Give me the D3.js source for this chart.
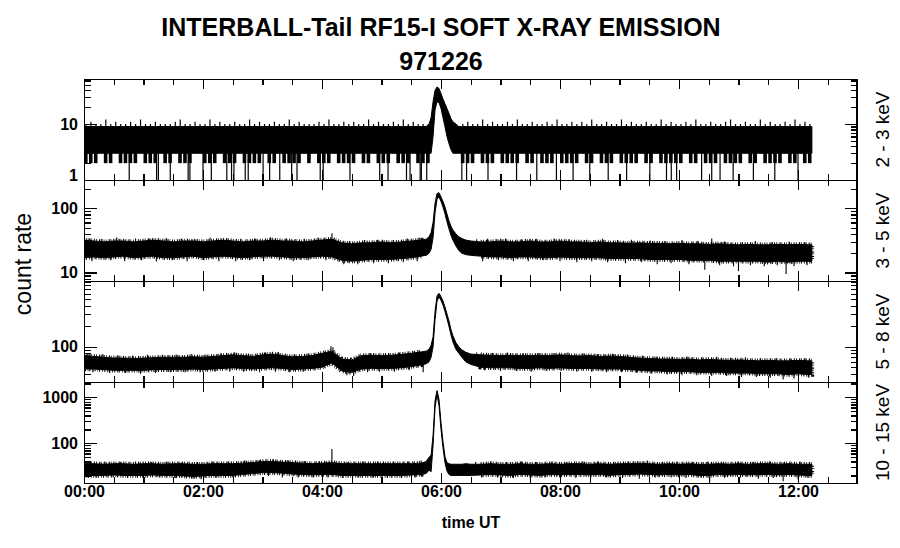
<!DOCTYPE html>
<html><head><meta charset="utf-8">
<script src="https://cdn.jsdelivr.net/npm/d3@7/dist/d3.min.js"></script>
<style>body{margin:0;background:#fff}svg{display:block}</style>
</head><body><svg id="c" width="900" height="548"></svg>
<script>
// ---------------- DATA ----------------
const titleLines = ["INTERBALL-Tail RF15-I SOFT X-RAY EMISSION", "971226"];
const yTitle = "count rate";
const xTitle = "time UT";
const energyLabels = ["2 - 3 keV", "3 - 5 keV", "5 - 8 keV", "10 - 15 keV"];
const xMajorHours = [0, 2, 4, 6, 8, 10, 12];
const xTickLabels = ["00:00", "02:00", "04:00", "06:00", "08:00", "10:00", "12:00"];
const xMinorHours = [0.5,1,1.5,2.5,3,3.5,4.5,5,5.5,6.5,7,7.5,8.5,9,9.5,10.5,11,11.5,12.5];

// sample times (minutes UT)
const timeMin = [0,10,20,30,40,50,60,70,80,90,100,110,120,130,140,150,160,170,180,190,200,210,220,230,240,250,260,270,280,290,300,310,320,330,340,
 345,348,350,352,354,356,358,360,362,364,366,368,370,372,375,378,381,385,390,
 400,410,420,430,440,450,460,470,480,490,500,510,520,530,540,550,560,570,580,590,600,610,620,630,640,650,660,670,680,690,700,710,720,730,734];
// flare interval (minutes) – edges there are smooth, not noisy
const flareStartMin = 343, flareEndMin = 392;

// 2-3 keV envelope
const p1Lo = [3,3,3,3,3,3,3,3,3,3,3,3,3,3,3,3,3,3,3,3,3,3,3,3,3,3,3,3,3,3,3,3,3,3,3,
 3,3,3,6,18,25,24,19,13,9,6,4.5,3.5,3,3,3,3,3,3,
 3,3,3,3,3,3,3,3,3,3,3,3,3,3,3,3,3,3,3,3,3,3,3,3,3,3,3,3,3,3,3,3,3,3,3];
const p1Hi = [9,9,9,9,9,9,9,9,9,9,9,9,9,9,9,9,9,9,9,9,9,9,9,9,9,9,9,9,9,9,9,9,9,9,9,
 9,10,13,25,40,46,43,35,28,23,19,15.5,12.5,11,10,9,9,9,9,
 9,9,9,9,9,9,9,9,9,9,9,9,9,9,9,9,9,9,9,9,9,9,9,9,9,9,9,9,9,9,9,9,9,9,9];
// 2-3 keV: lowest count in each 5-minute slot (2 or 3) and highest count in each slot
const p1SlotMin = 5;
const p1SlotLow = [2,2,2,3,2,2,3,2,2,2,2,3,2,2,2,3,2,2,3,2,2,2,3,3,2,2,2,3,2,2,
 2,3,2,2,2,2,3,2,2,3,2,2,2,2,3,2,3,2,2,2,3,2,2,2,2,3,2,2,3,2,
 2,2,3,2,2,2,3,2,2,2,3,3,3,3,3,3,2,2,2,3,2,2,2,3,2,2,2,2,3,2,
 2,3,2,2,2,3,2,2,2,2,3,2,2,3,2,2,2,3,2,2,2,2,3,2,2,3,2,2,2,2,
 2,3,2,2,3,2,2,2,3,2,2,2,2,3,2,2,3,2,2,2,2,3,2,2,3,2,2];
const p1SlotHigh = [10,11,10,10,12,10,11,10,10,11,10,12,10,10,11,10,10,10,11,12,10,10,11,10,10,12,10,11,10,10,
 11,10,10,12,10,11,10,10,11,10,10,12,10,11,10,10,10,11,10,12,10,10,11,10,11,10,10,12,10,11,
 10,10,11,10,12,10,11,10,10,9,9,9,9,9,9,9,10,11,10,10,12,10,11,10,10,11,10,12,10,10,
 11,10,10,11,10,12,10,10,11,10,11,10,12,10,10,11,10,10,12,10,11,10,10,11,10,10,12,10,11,10,
 10,11,10,12,10,10,11,10,10,11,12,10,10,11,10,10,12,10,11,10,10,11,10,12,10,11,10];
// 2-3 keV: times (hours) where the count drops to 1
const p1DipHours = [0.76,1.22,1.25,1.45,1.75,1.78,2.0,2.14,2.4,2.48,2.52,2.71,2.76,3.01,3.12,3.29,3.49,3.58,3.97,4.02,4.47,4.97,5.11,5.42,5.48,5.65,5.67,5.76,
 6.35,6.43,6.79,7.27,7.61,7.94,8.22,8.5,8.81,9.12,9.51,9.79,9.87,9.96,10.38,10.55,10.69,10.91,11.25,11.61,12.0];

// 3-5 keV envelope
const p2Lo = [17,17.5,17,17.5,18,17,17.5,18,17,17,17.5,18,17,17.5,18,17.5,17,17.5,18,18,17.5,17,17,17.5,18,17.5,15.5,15,15.5,16,16,16,16.5,17,18,
 18.5,20,23,35,85,140,150,128,105,82,62,48,38,32,26,22,20,19,18.5,
 18,17.5,17.5,17,17.5,17.5,17,17,17.5,17,17,17,17,16.5,16.5,16.5,16.5,16,16,16,16,15.5,15.5,15.5,15,15,15,15,15,14.5,15,14.5,15,15,15];
const p2Hi = [32,31,30,31,31,30,31,32,31,30,31,31,30,31,32,31,30,31,31,32,31,31,30,31,32,33,29,28,29,29,30,29,30,31,32,
 33,36,42,60,120,170,175,150,128,105,82,64,53,46,40,36,34,32,31,
 30,30,31,30,30,31,30,30,31,30,30,29,30,29,29,28.5,29,28.5,28.5,28,28.5,28,28,27.5,28,27.5,27,27.5,27,27,27.5,27,27.5,27,27];
const p2Spikes = [[5,34],[18,33.5],[33,35],[52,34],[66,33],[83,34.5],[98,34],[112,33],[127,35],[144,34],[158,33.5],[172,34],[188,35.5],[204,34],[222,33.5],[236,35],[250,41],[268,31],[283,32],[296,32.5],[312,32],[326,34],[338,35],
 [396,33],[407,33.5],[425,34],[441,33],[456,33.5],[474,34],[489,33],[507,32.5],[523,33.5],[538,32],[552,32.5],[571,31.5],[586,31],[603,32],[619,31],[633,34],[646,30.5],[664,30],[677,31],[694,30],[711,30.5],[727,30],
 [8,15],[27,15.5],[41,15],[58,15.5],[73,14.8],[89,15.5],[104,15],[121,15.5],[136,15],[153,15],[167,15.5],[181,15],[197,15.5],[211,15],[226,15.5],[244,15.5],[262,13.5],[276,13.5],[292,14],[307,14],[322,14.5],[336,15],
 [402,15],[418,15.5],[433,15],[448,15],[463,15.5],[480,15],[497,14.5],[512,15],[528,14.5],[546,14],[562,14.5],[578,13.5],[592,14],[610,13.5],[626,11],[641,13],[655,12.5],[660,10.5],[672,13],[686,12.5],[699,13],[708,9.5],[716,12.5],[729,13]];

// 5-8 keV envelope
const p3Lo = [47,47,46,45,45,45,45,46,46,46,46,47,46,47,48,49,48,47,48,49,48,46,47,48,50,58,44,42,47,48,48,48,49,51,54,
 56,60,70,100,250,470,540,480,410,330,260,200,150,118,92,80,70,60,55,
 50,49,49,49,48,48,49,48,49,48,48,48,47,47,47,46,45,44,44,43,43,43,42,42,42,41,41,41,40,40,40,39,40,39,39];
const p3Hi = [74,72,70,68,68,67,68,69,70,70,70,71,70,72,74,76,74,72,76,78,74,71,72,74,80,86,66,64,74,75,74,75,77,80,84,
 86,92,105,140,330,560,610,545,470,385,305,240,180,145,115,100,90,83,78,
 76,75,74,75,74,74,75,74,76,74,73,74,72,73,72,70,68,67,66,66,65,66,64,65,64,63,64,63,62,63,62,62,63,62,62];
const p3Spikes = [[4,80],[19,78],[34,75],[49,74],[64,76],[79,76],[93,77],[108,78],[122,77],[138,80],[152,83],[166,79],[182,82],[196,84],[212,78],[226,80],[249,102],[251,98],[258,70],[276,72],[289,80],[304,80],[318,82],[333,86],
 [396,82],[412,81],[427,82],[443,80],[458,81],[473,80],[488,82],[503,80],[518,78],[533,79],[548,77],[563,74],[577,72],[593,72],[608,72],[623,70],[638,71],[652,69],[667,70],[682,68],[698,68],[712,67],[727,68],
 [9,42],[26,41],[42,41],[57,40],[72,41],[87,42],[102,42],[117,42],[132,43],[147,43],[161,43],[177,42],[193,43],[207,42],[221,43],[265,38],[272,37],[286,42],[298,43],[313,43],[328,45],[342,42],
 [404,45],[420,44],[436,44],[451,43],[466,44],[481,44],[497,43],[512,43],[527,42],[542,42],[557,41],[572,40],[588,39],[603,38],[618,38],[633,37],[648,37],[663,36],[678,36],[692,35],[705,33],[716,34],[731,35]];

// 10-15 keV envelope
const p4Lo = [20,20,20,20.5,20,20,20,20.5,20,20,19.5,19,19.5,20,20,20,21,22,23,23,22.5,21.5,21,20.5,21,21,20,20,20,20,20,20,20,20.5,21,
 22,26,24,90,600,1150,650,200,80,38,25,21,20,20,20,20,20,20,20,
 20.5,21,20.5,20,21,20.5,20,21,20.5,21,21,20.5,21,20,21,21,21.5,21,20.5,21,20.5,21,20,20,21,20.5,21,20.5,21,21,20.5,21,20.5,20,20];
const p4Hi = [36,36,35,36,36,35,36,36,35,36,36,35,35,36,36,36,37,38,40,40,39,38,37,36,37,38,36,36,36,36,36,36,36,36,37,
 40,50,55,150,850,1400,900,280,110,52,38,36,35,35,35,35,35,36,35,
 35,36,35,35,36,35,35,36,35,36,36,35,36,35,36,36,37,36,35,36,35,36,35,35,36,35,36,35,36,36,35,36,35,35,35];
const p4Spikes = [[6,39],[21,40],[37,39],[52,40],[68,39],[83,40],[99,39],[114,39],[130,40],[146,40],[162,42],[177,43],[191,45],[206,43],[222,41],[237,40],[250,75],[266,39],[281,40],[296,40],[312,39],[327,40],[340,42],
 [395,39],[410,40],[426,39],[441,40],[456,39],[472,40],[487,39],[503,40],[518,40],[534,39],[549,40],[568,42],[583,39],[598,40],[614,39],[629,40],[645,39],[660,40],[675,39],[691,40],[706,39],[722,40],
 [12,18],[28,18],[44,17.5],[60,18],[76,18],[92,17.5],[110,17],[118,16.5],[134,18],[150,18],[186,19.5],[200,18],[216,18],[231,18],[246,18],[261,17.5],[277,18],[292,18],[306,17.5],[320,17.5],[334,18],
 [401,18],[417,18],[433,17.5],[450,17.5],[465,18],[480,18],[496,17.5],[511,18],[527,18],[543,17.5],[560,17],[576,18],[592,18],[607,17.5],[622,18],[631,14.8],[646,17.5],[662,18],[680,17],[695,17.5],[705,15],[720,16.5],[730,17.5]];

// y axis ticks
const p1Major = [1, 10], p1MajorLabels = ["1", "10"];
const p1Minor = [2,3,4,5,6,7,8,9,20,30,40,50,60];
const p2Major = [10, 100], p2MajorLabels = ["10", "100"];
const p2Minor = [8,9,20,30,40,50,60,70,80,90,200];
const p3Major = [100], p3MajorLabels = ["100"];
const p3Minor = [40,50,60,70,80,90,200,300,400,500,600,700,800,900];
const p4Major = [100, 1000], p4MajorLabels = ["100", "1000"];
const p4Minor = [20,30,40,50,60,70,80,90,200,300,400,500,600,700,800,900,2000];

// ---------------- DRAW ----------------
const FONT = "'Liberation Sans', Arial, Helvetica, sans-serif";
const svg = d3.select("#c");
const xL = 84, xR = 857.5;
const x = d3.scaleLinear().domain([0, 13]).range([xL, xR]);

const panels = [
  {top: 79,  bot: 180, dom: [1, 63.6],     lo: p1Lo, hi: p1Hi, spikes: [],       major: p1Major, majorLab: p1MajorLabels, minor: p1Minor},
  {top: 180, bot: 281, dom: [7.38, 276],   lo: p2Lo, hi: p2Hi, spikes: p2Spikes, major: p2Major, majorLab: p2MajorLabels, minor: p2Minor},
  {top: 281, bot: 382, dom: [30.3, 925],   lo: p3Lo, hi: p3Hi, spikes: p3Spikes, major: p3Major, majorLab: p3MajorLabels, minor: p3Minor},
  {top: 382, bot: 483, dom: [13.7, 2150],  lo: p4Lo, hi: p4Hi, spikes: p4Spikes, major: p4Major, majorLab: p4MajorLabels, minor: p4Minor}
];

const defs = svg.append("defs");

panels.forEach((p, i) => {
  const y = d3.scaleLog().domain(p.dom).range([p.bot, p.top]);
  defs.append("clipPath").attr("id", "clip" + i).append("rect")
    .attr("x", xL).attr("y", p.top).attr("width", xR - xL).attr("height", p.bot - p.top);
  const dg = svg.append("g").attr("clip-path", `url(#clip${i})`);
  const rows = timeMin.map((m, k) => ({m: m, t: m / 60, lo: p.lo[k], hi: p.hi[k]}));

  // panel-1 fringe texture
  if (i === 0) {
    const slots = p1SlotLow.map((v, k) => ({t: k * p1SlotMin / 60, low: v, high: p1SlotHigh[k]}));
    dg.selectAll("rect.low").data(slots.filter(d => d.low < 3)).join("rect")
      .attr("x", d => x(d.t)).attr("width", 3.6)
      .attr("y", y(3) - 1).attr("height", d => y(d.low) - y(3) + 1).attr("fill", "#000");
    dg.selectAll("line.high").data(slots.filter(d => d.high > 9)).join("line")
      .attr("x1", d => x(d.t + 2 / 60)).attr("x2", d => x(d.t + 2 / 60))
      .attr("y1", y(9)).attr("y2", d => y(d.high)).attr("stroke", "#000").attr("stroke-width", 1.2);
    dg.selectAll("line.dip").data(p1DipHours).join("line")
      .attr("x1", d => x(d)).attr("x2", d => x(d))
      .attr("y1", y(3)).attr("y2", y(1)).attr("stroke", "#000").attr("stroke-width", 1.2);
  }

  // main band
  const areaGen = d3.area().x(d => x(d.t)).y0(d => y(d.lo)).y1(d => y(d.hi));
  dg.append("path").datum(rows).attr("d", areaGen)
    .attr("fill", "#000").attr("stroke", "#000").attr("stroke-width", 1).attr("stroke-linejoin", "round");
  if (i > 0) {
    // fuzzy (noisy) edge texture on the quiet parts only
    const fuzz = d3.area().defined(d => d.m <= flareStartMin || d.m >= flareEndMin)
      .x(d => x(d.t)).y0(d => y(d.lo)).y1(d => y(d.hi));
    dg.append("path").datum(rows).attr("d", fuzz)
      .attr("fill", "none").attr("stroke", "#000").attr("stroke-width", 4.5)
      .attr("stroke-dasharray", "1 1.3 0.8 2.1 1.2 0.9 0.7 1.8");
  }

  // spikes
  const bis = d3.bisector(d => d).left;
  dg.selectAll("line.sp").data(p.spikes).join("line")
    .attr("x1", d => x(d[0] / 60)).attr("x2", d => x(d[0] / 60))
    .attr("y1", d => { const k = Math.min(bis(timeMin, d[0]), timeMin.length - 1); return y(Math.sqrt(p.lo[k] * p.hi[k])); })
    .attr("y2", d => y(d[1]))
    .attr("stroke", "#000").attr("stroke-width", 1.1);

  // frame
  svg.append("rect").attr("x", xL + 0.5).attr("y", p.top + 0.5)
    .attr("width", xR - xL - 1).attr("height", p.bot - p.top)
    .attr("fill", "none").attr("stroke", "#000").attr("stroke-width", 1.2).attr("shape-rendering", "crispEdges");

  const styleAxis = g => {
    g.select(".domain").remove();
    g.selectAll("line").attr("stroke", "#000").attr("stroke-width", 1.2).attr("shape-rendering", "crispEdges");
    g.selectAll("text").attr("fill", "#000").style("font-family", FONT).style("font-size", "16px").style("font-weight", "bold");
  };

  // left / right y axes
  svg.append("g").attr("transform", `translate(${xL},0)`)
    .call(d3.axisLeft(y).tickValues(p.minor).tickSizeInner(-7).tickSizeOuter(0).tickFormat(""))
    .call(styleAxis);
  const lmaj = svg.append("g").attr("transform", `translate(${xL},0)`)
    .call(d3.axisLeft(y).tickValues(p.major).tickSizeInner(-13).tickSizeOuter(0).tickPadding(6)
      .tickFormat((d) => p.majorLab[p.major.indexOf(d)]))
    .call(styleAxis);
  if (i === 0) lmaj.selectAll("text").filter(d => d === 1).attr("y", -5);
  svg.append("g").attr("transform", `translate(${xR},0)`)
    .call(d3.axisRight(y).tickValues(p.minor).tickSizeInner(-7).tickSizeOuter(0).tickFormat(""))
    .call(styleAxis);
  svg.append("g").attr("transform", `translate(${xR},0)`)
    .call(d3.axisRight(y).tickValues(p.major).tickSizeInner(-13).tickSizeOuter(0).tickFormat(""))
    .call(styleAxis);

  // top / bottom time axes (inward ticks)
  svg.append("g").attr("transform", `translate(0,${p.top})`)
    .call(d3.axisTop(x).tickValues(xMinorHours).tickSizeInner(-6).tickSizeOuter(0).tickFormat(""))
    .call(styleAxis);
  svg.append("g").attr("transform", `translate(0,${p.top})`)
    .call(d3.axisTop(x).tickValues(xMajorHours).tickSizeInner(-10).tickSizeOuter(0).tickFormat(""))
    .call(styleAxis);
  svg.append("g").attr("transform", `translate(0,${p.bot})`)
    .call(d3.axisBottom(x).tickValues(xMinorHours).tickSizeInner(-6).tickSizeOuter(0).tickFormat(""))
    .call(styleAxis);
  svg.append("g").attr("transform", `translate(0,${p.bot})`)
    .call(d3.axisBottom(x).tickValues(xMajorHours).tickSizeInner(-10).tickSizeOuter(0).tickPadding(3)
      .tickFormat(i === 3 ? ((d) => xTickLabels[xMajorHours.indexOf(d)]) : ""))
    .call(styleAxis);

  // energy label on the right
  svg.append("text")
    .attr("transform", `translate(889,${(p.top + p.bot) / 2}) rotate(-90)`)
    .attr("text-anchor", "middle")
    .style("font-family", FONT).style("font-size", "19px")
    .text(energyLabels[i]);
});

// titles
svg.append("text").attr("x", 441).attr("y", 36).attr("text-anchor", "middle")
  .style("font-family", FONT).style("font-size", "25px").style("font-weight", "bold").text(titleLines[0]);
svg.append("text").attr("x", 441).attr("y", 70).attr("text-anchor", "middle")
  .style("font-family", FONT).style("font-size", "25px").style("font-weight", "bold").text(titleLines[1]);
svg.append("text").attr("transform", "translate(31,264) rotate(-90)").attr("text-anchor", "middle")
  .style("font-family", FONT).style("font-size", "23px").text(yTitle);
svg.append("text").attr("x", 471).attr("y", 528).attr("text-anchor", "middle")
  .style("font-family", FONT).style("font-size", "16px").style("font-weight", "bold").text(xTitle);
</script>
</body></html>
